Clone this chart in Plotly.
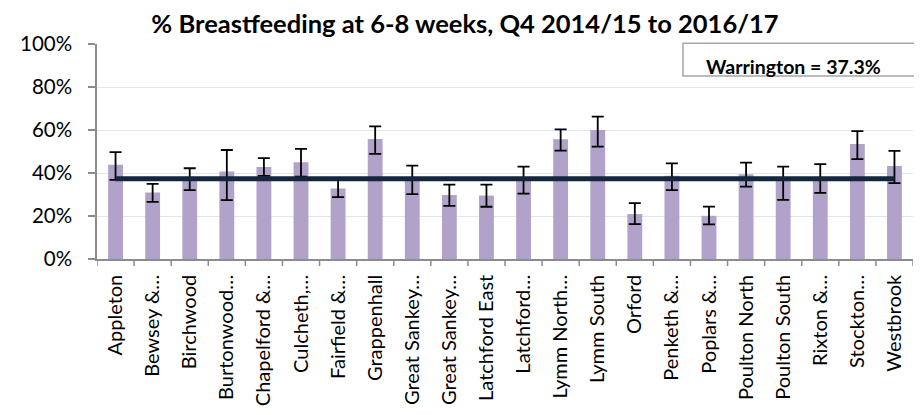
import plotly.graph_objects as go

wards = ["Appleton", "Bewsey &…", "Birchwood", "Burtonwood…", "Chapelford &…",
         "Culcheth,…", "Fairfield &…", "Grappenhall", "Great Sankey…", "Great Sankey…",
         "Latchford East", "Latchford…", "Lymm North…", "Lymm South", "Orford",
         "Penketh &…", "Poplars &…", "Poulton North", "Poulton South", "Rixton &…",
         "Stockton…", "Westbrook"]
values = [43.8, 30.9, 37.0, 40.7, 42.8, 45.0, 32.8, 55.8, 37.0, 29.8,
          29.5, 37.0, 55.7, 60.0, 20.9, 38.7, 20.1, 39.4, 36.3, 37.2,
          53.5, 43.3]
ci_upper = [49.7, 34.9, 42.2, 50.7, 46.9, 51.2, 36.8, 61.7, 43.4, 34.6,
            34.6, 43.0, 60.3, 66.2, 26.0, 44.5, 24.4, 44.8, 43.0, 44.1,
            59.5, 50.3]
ci_lower = [36.8, 26.6, 32.0, 27.4, 38.7, 38.3, 28.8, 48.9, 30.2, 24.7,
            24.3, 30.4, 50.4, 52.3, 16.2, 32.0, 16.1, 33.7, 27.5, 30.8,
            46.5, 35.3]
warrington = 37.3
y_ticks = [0, 20, 40, 60, 80, 100]

# unique x keys to keep duplicate labels separate
xkeys = list(range(len(wards)))
err_plus = [u - v for u, v in zip(ci_upper, values)]
err_minus = [v - l for v, l in zip(values, ci_lower)]

FONT = "Lato, 'Open Sans', sans-serif"

# page has an 8px body margin; figure sized to fit the 922x415 window
W, H = 914, 407
ML, MR, MT, MB = 89, 9, 36, 156
PW = W - ML - MR
PH = H - MT - MB


def px_x(page_x):
    return (page_x - 8 - ML) / PW


def px_y(page_y):
    return (8 + MT + PH - page_y) / PH


fig = go.Figure()
fig.add_trace(go.Bar(
    x=xkeys, y=values,
    marker=dict(color="#b1a2c9", line=dict(width=0)),
    error_y=dict(type="data", symmetric=False, array=err_plus, arrayminus=err_minus,
                 color="#000000", thickness=1.8, width=6),
    showlegend=False,
))
fig.add_trace(go.Scatter(
    x=xkeys, y=[warrington] * len(xkeys), mode="lines",
    line=dict(color="#15263f", width=5), showlegend=False,
))

fig.update_layout(
    width=W, height=H,
    margin=dict(l=ML, r=MR, t=MT, b=MB, autoexpand=False),
    paper_bgcolor="white", plot_bgcolor="white",
    bargap=0.6,
    font=dict(family=FONT, color="#000000"),
    title=dict(text="<b>% Breastfeeding at 6-8 weeks, Q4 2014/15 to 2016/17</b>",
               x=0.5, xanchor="center", y=1 - 16 / H, yanchor="middle",
               font=dict(size=25.5, family=FONT, color="#000000")),
    xaxis=dict(
        type="linear", range=[-0.5, len(wards) - 0.5],
        tickmode="array", tickvals=xkeys, ticktext=wards,
        tickangle=-90, tickfont=dict(size=20, family=FONT, color="#000000"),
        showgrid=False, zeroline=False,
        showline=True, linecolor="#8c8c8c", linewidth=1.5,
        ticks="", ticklabelstandoff=6,
    ),
    yaxis=dict(
        range=[0, 100], tickmode="array", tickvals=y_ticks,
        ticktext=[f"{t}%" for t in y_ticks],
        tickfont=dict(size=20.5, family=FONT, color="#000000"),
        showgrid=True, gridcolor="#dde6f2", gridwidth=1.2,
        zeroline=False, showline=True, linecolor="#8c8c8c", linewidth=1.5,
        ticks="outside", ticklen=7, tickcolor="#8c8c8c", tickwidth=1.5,
        ticklabelstandoff=12,
    ),
)

# boundary ticks for the category axis (Excel style)
for b in range(len(wards) + 1):
    fig.add_shape(type="line", xref="x", yref="paper",
                  x0=b - 0.5, x1=b - 0.5, y0=0, y1=-7 / PH,
                  line=dict(color="#8c8c8c", width=1.5))

# Warrington text box
fig.add_shape(type="rect", xref="paper", yref="paper",
              x0=px_x(683), x1=px_x(921.5),
              y0=px_y(76), y1=px_y(43.3),
              line=dict(color="#a6a6a6", width=1.5), fillcolor="white", layer="above")
fig.add_annotation(text="<b>Warrington = 37.3%</b>", xref="paper", yref="paper",
                   x=px_x(704), xanchor="left",
                   y=px_y(66.5), yanchor="middle",
                   showarrow=False, font=dict(size=19.5, family=FONT, color="#000000"))

fig.write_html("out.html")
